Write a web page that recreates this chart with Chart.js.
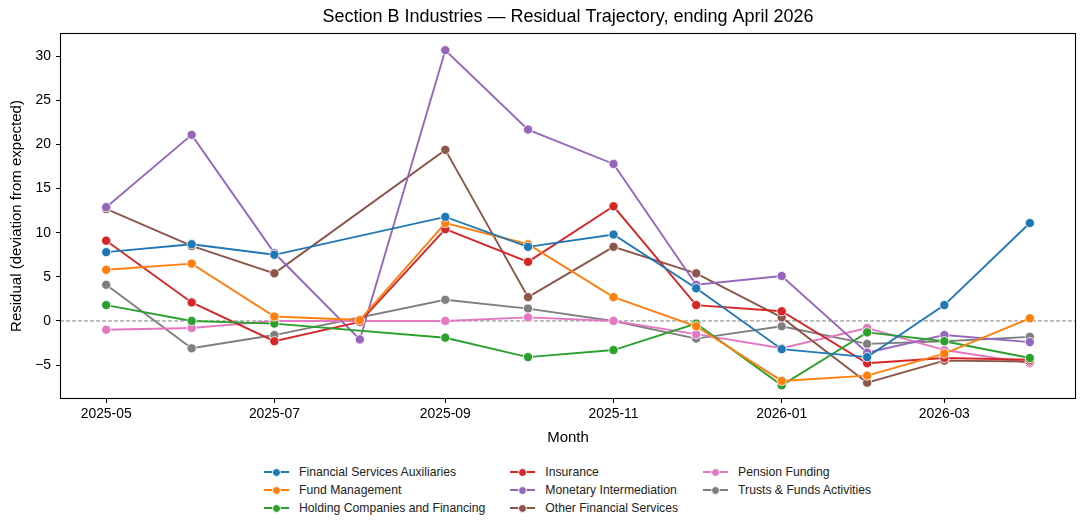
<!DOCTYPE html>
<html>
<head>
<meta charset="utf-8">
<script src="https://cdn.jsdelivr.net/npm/chart.js@4.4.1/dist/chart.umd.min.js"></script>
<style>
  body { margin: 0; background: #fff; font-family: "Liberation Sans", Arial, sans-serif; }
  #wrap { position: relative; width: 1087px; height: 531px; }
  #chartBox { position: absolute; left: 0; top: 0; width: 1087px; height: 455px; }
  #legend { position: absolute; left: 264px; top: 463px; display: grid;
            grid-template-columns: auto auto auto; column-gap: 25px; grid-auto-flow: column;
            grid-template-rows: 18px 18px 18px; font-size: 12.2px; color: #222; }
  .item { display: flex; align-items: center; white-space: nowrap; }
  .icon { position: relative; width: 25px; height: 10px; margin-right: 10px; flex: none; }
  .icon .ln { position: absolute; left: 0; right: 0; top: 4px; height: 2px; }
  .icon .dt { position: absolute; left: 8px; top: 0.5px; width: 9px; height: 9px; border-radius: 50%; border: 0.6px solid #fff; box-sizing: border-box; }
</style>
</head>
<body>
<div id="wrap">
  <div id="chartBox"><canvas id="myChart"></canvas></div>
  <div id="legend"></div>
</div>
<script>
// months on the x axis
var months = ['2025-05','2025-06','2025-07','2025-08','2025-09','2025-10','2025-11','2025-12','2026-01','2026-02','2026-03','2026-04'];
var xTickLabels = ['2025-05','2025-07','2025-09','2025-11','2026-01','2026-03'];
var yTicks = [-5, 0, 5, 10, 15, 20, 25, 30];

// residual values per industry (null = no data that month)
var finAux    = [7.8, 8.7, 7.5, null, 11.8, 8.4, 9.8, 3.7, -3.2, -4.1, 1.8, 11.1];
var fundMgmt  = [5.8, 6.5, 0.5, 0.1, 11.1, 8.7, 2.7, -0.6, -6.8, -6.2, -3.7, 0.3];
var holding   = [1.8, 0.0, -0.3, null, -1.9, -4.1, -3.3, -0.3, -7.3, -1.3, -2.3, -4.2];
var insurance = [9.1, 2.1, -2.3, -0.1, 10.4, 6.7, 13.0, 1.8, 1.1, -4.8, -4.2, -4.4];
var monetary  = [12.9, 21.1, 7.7, -2.1, 30.7, 21.7, 17.8, 4.1, 5.1, -3.6, -1.6, -2.4];
var otherFin  = [12.7, 8.5, 5.4, null, 19.4, 2.7, 8.4, 5.4, 0.4, -7.0, -4.5, -4.6];
var pension   = [-1.0, -0.8, 0.0, null, 0.0, 0.4, 0.0, -1.5, -3.1, -0.8, -3.3, -4.8];
var trusts    = [4.1, -3.1, -1.6, null, 2.4, 1.4, 0.0, -2.0, -0.6, -2.6, -2.3, -1.8];

var seriesNames = ['Financial Services Auxiliaries','Fund Management','Holding Companies and Financing','Insurance',
                   'Monetary Intermediation','Other Financial Services','Pension Funding','Trusts & Funds Activities'];
var seriesData = [finAux, fundMgmt, holding, insurance, monetary, otherFin, pension, trusts];
var colors = ['#1f77b4','#ff7f0e','#2ca02c','#d62728','#9467bd','#8c564b','#e377c2','#7f7f7f'];

var FONT = '"Liberation Sans", Arial, sans-serif';

// days since first month, so the x axis behaves like a date axis
function dayOf(m) {
  var p = m.split('-');
  return (Date.UTC(+p[0], +p[1] - 1, 1) - Date.UTC(2025, 4, 1)) / 86400000;
}
var xDays = months.map(dayOf);
var span = xDays[xDays.length - 1] - xDays[0];

var datasets = seriesNames.map(function (name, i) {
  return {
    label: name,
    data: seriesData[i].map(function (v, j) { return { x: xDays[j], y: v }; }),
    borderColor: colors[i],
    backgroundColor: colors[i],
    borderWidth: 1.9,
    pointRadius: 4.6,
    pointBorderColor: '#fff',
    pointBorderWidth: 0.8,
    pointBackgroundColor: colors[i],
    spanGaps: true,
    tension: 0
  };
});

var framePlugin = {
  id: 'frame',
  beforeDatasetsDraw: function (chart) {
    var ctx = chart.ctx, a = chart.chartArea;
    var y0 = chart.scales.y.getPixelForValue(0);
    ctx.save();
    ctx.strokeStyle = '#808080';
    ctx.lineWidth = 1;
    ctx.setLineDash([4, 2]);
    ctx.beginPath();
    ctx.moveTo(a.left, y0);
    ctx.lineTo(a.right, y0);
    ctx.stroke();
    ctx.restore();
  },
  afterDraw: function (chart) {
    var ctx = chart.ctx, a = chart.chartArea;
    ctx.save();
    ctx.strokeStyle = '#000';
    ctx.lineWidth = 1.1;
    ctx.strokeRect(Math.round(a.left) + 0.5, Math.round(a.top) + 0.5,
                   Math.round(a.right - a.left) - 1, Math.round(a.bottom - a.top) - 1);
    ctx.restore();
  }
};

var ctx = document.getElementById('myChart').getContext('2d');
var chart = new Chart(ctx, {
  type: 'line',
  data: { datasets: datasets },
  options: {
    responsive: true,
    maintainAspectRatio: false,
    animation: false,
    layout: { padding: { left: 8, right: 11, top: 0, bottom: 0 } },
    plugins: {
      legend: { display: false },
      tooltip: { enabled: false },
      title: {
        display: true,
        fullSize: false,
        text: 'Section B Industries \u2014 Residual Trajectory, ending April 2026',
        color: '#000',
        font: { size: 18, weight: 'normal', family: FONT },
        padding: { top: 6, bottom: 5.4 }
      }
    },
    scales: {
      x: {
        type: 'linear',
        min: -0.05 * span,
        max: span * 1.05,
        afterFit: function (s) { s.height = 56; },
        afterBuildTicks: function (s) {
          s.ticks = xTickLabels.map(function (m) { return { value: dayOf(m) }; });
        },
        ticks: {
          autoSkip: false,
          maxRotation: 0,
          color: '#000',
          padding: 3,
          font: { size: 13.9, family: FONT },
          callback: function (v) {
            var k = xTickLabels.map(dayOf).indexOf(v);
            return k >= 0 ? xTickLabels[k] : '';
          }
        },
        grid: { drawOnChartArea: false, color: '#000', tickLength: 4 },
        border: { display: false },
        title: {
          display: true, text: 'Month', color: '#000',
          font: { size: 15, family: FONT },
          padding: { top: 2, bottom: 8 }
        }
      },
      y: {
        min: -8.85,
        max: 32.65,
        afterFit: function (s) { s.width = 52; },
        afterBuildTicks: function (s) {
          s.ticks = yTicks.map(function (v) { return { value: v }; });
        },
        ticks: {
          color: '#000',
          padding: 5,
          font: { size: 13.9, family: FONT },
          callback: function (v) { return v < 0 ? '\u2212' + Math.abs(v) : String(v); }
        },
        grid: { drawOnChartArea: false, color: '#000', tickLength: 4 },
        border: { display: false },
        title: {
          display: true, text: 'Residual (deviation from expected)', color: '#000',
          font: { size: 15, family: FONT },
          padding: { top: 0, bottom: 2 }
        }
      }
    }
  },
  plugins: [framePlugin]
});

// html legend, filled column by column like the original
var leg = document.getElementById('legend');
chart.data.datasets.forEach(function (ds) {
  var it = document.createElement('div');
  it.className = 'item';
  it.innerHTML = '<span class="icon"><span class="ln" style="background:' + ds.borderColor + '"></span>' +
                 '<span class="dt" style="background:' + ds.borderColor + '"></span></span>' + ds.label;
  leg.appendChild(it);
});
</script>
</body>
</html>
